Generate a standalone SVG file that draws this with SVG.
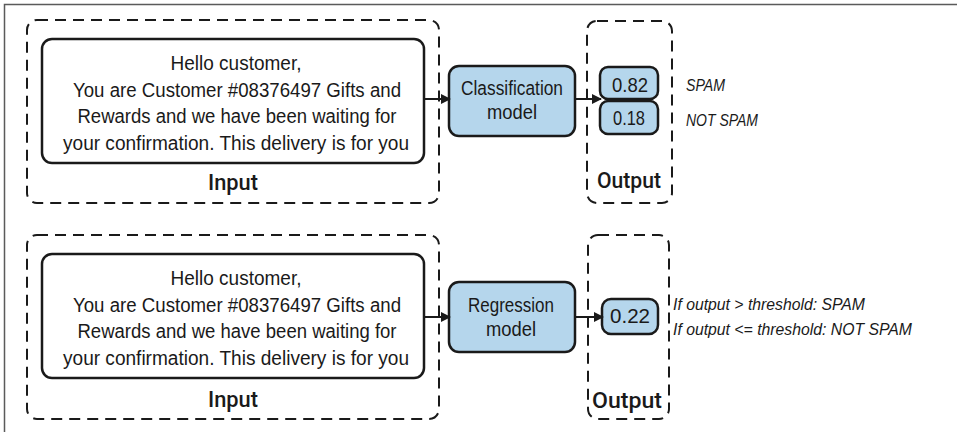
<svg xmlns="http://www.w3.org/2000/svg" width="957" height="432" viewBox="0 0 957 432">
<style>
.frame{fill:none;stroke:#5a5a5a;stroke-width:1.5}
.group{fill:none;stroke:#1a1a1a;stroke-width:2;stroke-dasharray:11 7}
.msg{fill:#fff;stroke:#1a1a1a;stroke-width:2.5}
.model{fill:#b5d6ec;stroke:#1a1a1a;stroke-width:2.5}
.t{font-family:"Liberation Sans Narrow","Liberation Sans",Arial,sans-serif;fill:#1a1a1a;text-anchor:middle}
.m{font-size:20px}
.lbl{font-family:Roboto,"Liberation Sans",Arial,sans-serif;font-size:22px;font-weight:500}
.it{font-family:"Liberation Sans Narrow","Liberation Sans",Arial,sans-serif;font-style:italic;font-size:17px;fill:#1a1a1a}
.conn{fill:none;stroke:#1a1a1a;stroke-width:2}
</style>
<defs>
<marker id="ah" viewBox="0 0 10 10" refX="9" refY="5" markerWidth="10" markerHeight="10" markerUnits="userSpaceOnUse" orient="auto">
<path d="M0,0 L10,5 L0,10 z" fill="#1a1a1a"/>
</marker>
</defs>
<rect width="957" height="432" fill="#fff"/>
<path class="frame" d="M4.5,432 V4.5 H957"/>

<g id="input-top">
<rect class="group" x="27" y="20" width="412" height="183" rx="10"/>
<rect class="msg" x="42" y="39" width="382" height="124" rx="10"/>
<text class="t m" x="236" y="70" textLength="131" lengthAdjust="spacingAndGlyphs">Hello customer,</text>
<text class="t m" x="237" y="97" textLength="328" lengthAdjust="spacingAndGlyphs">You are Customer #08376497 Gifts and</text>
<text class="t m" x="237" y="123" textLength="319" lengthAdjust="spacingAndGlyphs">Rewards and we have been waiting for</text>
<text class="t m" x="236" y="150" textLength="346" lengthAdjust="spacingAndGlyphs">your confirmation. This delivery is for you</text>
<text class="t lbl" x="233" y="190" textLength="50" lengthAdjust="spacingAndGlyphs">Input</text>
</g>

<g id="classification-model">
<rect class="model" x="449" y="66" width="126" height="70" rx="10"/>
<text class="t m" x="512" y="95" textLength="102" lengthAdjust="spacingAndGlyphs">Classification</text>
<text class="t m" x="512" y="119" textLength="50" lengthAdjust="spacingAndGlyphs">model</text>
</g>

<g id="output-top">
<rect class="group" x="587" y="21" width="85" height="182" rx="10"/>
<rect class="model" x="600" y="67" width="58" height="32" rx="8"/>
<text class="t m" x="630" y="92" textLength="36" lengthAdjust="spacingAndGlyphs">0.82</text>
<rect class="model" x="600" y="101" width="58" height="33" rx="8"/>
<text class="t m" x="629" y="125" textLength="32" lengthAdjust="spacingAndGlyphs">0.18</text>
<text class="t lbl" x="629" y="188" textLength="64" lengthAdjust="spacingAndGlyphs">Output</text>
</g>

<g id="labels-top">
<text class="it" x="686" y="91" textLength="39" lengthAdjust="spacingAndGlyphs">SPAM</text>
<text class="it" x="686" y="126" textLength="72" lengthAdjust="spacingAndGlyphs">NOT SPAM</text>
</g>

<g id="input-bottom">
<rect class="group" x="27" y="235" width="412" height="184" rx="10"/>
<rect class="msg" x="42" y="254" width="382" height="124" rx="10"/>
<text class="t m" x="236" y="285" textLength="131" lengthAdjust="spacingAndGlyphs">Hello customer,</text>
<text class="t m" x="237" y="312" textLength="328" lengthAdjust="spacingAndGlyphs">You are Customer #08376497 Gifts and</text>
<text class="t m" x="237" y="338" textLength="319" lengthAdjust="spacingAndGlyphs">Rewards and we have been waiting for</text>
<text class="t m" x="236" y="365" textLength="346" lengthAdjust="spacingAndGlyphs">your confirmation. This delivery is for you</text>
<text class="t lbl" x="233" y="407" textLength="50" lengthAdjust="spacingAndGlyphs">Input</text>
</g>

<g id="regression-model">
<rect class="model" x="449" y="282" width="126" height="70" rx="10"/>
<text class="t m" x="511" y="312" textLength="86" lengthAdjust="spacingAndGlyphs">Regression</text>
<text class="t m" x="511" y="336" textLength="50" lengthAdjust="spacingAndGlyphs">model</text>
</g>

<g id="output-bottom">
<rect class="group" x="588" y="235" width="81" height="184" rx="10"/>
<rect class="model" x="602" y="299" width="56" height="35" rx="9"/>
<text class="t m" x="630" y="323" textLength="40" lengthAdjust="spacingAndGlyphs">0.22</text>
<text class="t lbl" x="627" y="408" textLength="70" lengthAdjust="spacingAndGlyphs">Output</text>
</g>

<g id="labels-bottom">
<text class="it" x="673" y="310" textLength="192" lengthAdjust="spacingAndGlyphs">If output &gt; threshold: SPAM</text>
<text class="it" x="673" y="335" textLength="239" lengthAdjust="spacingAndGlyphs">If output &lt;= threshold: NOT SPAM</text>
</g>

<g id="connectors">
<line class="conn" x1="424" y1="99" x2="450" y2="99" marker-end="url(#ah)"/>
<line class="conn" x1="575" y1="99" x2="601" y2="99" marker-end="url(#ah)"/>
<line class="conn" x1="424" y1="317" x2="450" y2="317" marker-end="url(#ah)"/>
<line class="conn" x1="575" y1="317" x2="603" y2="317" marker-end="url(#ah)"/>
</g>
</svg>
